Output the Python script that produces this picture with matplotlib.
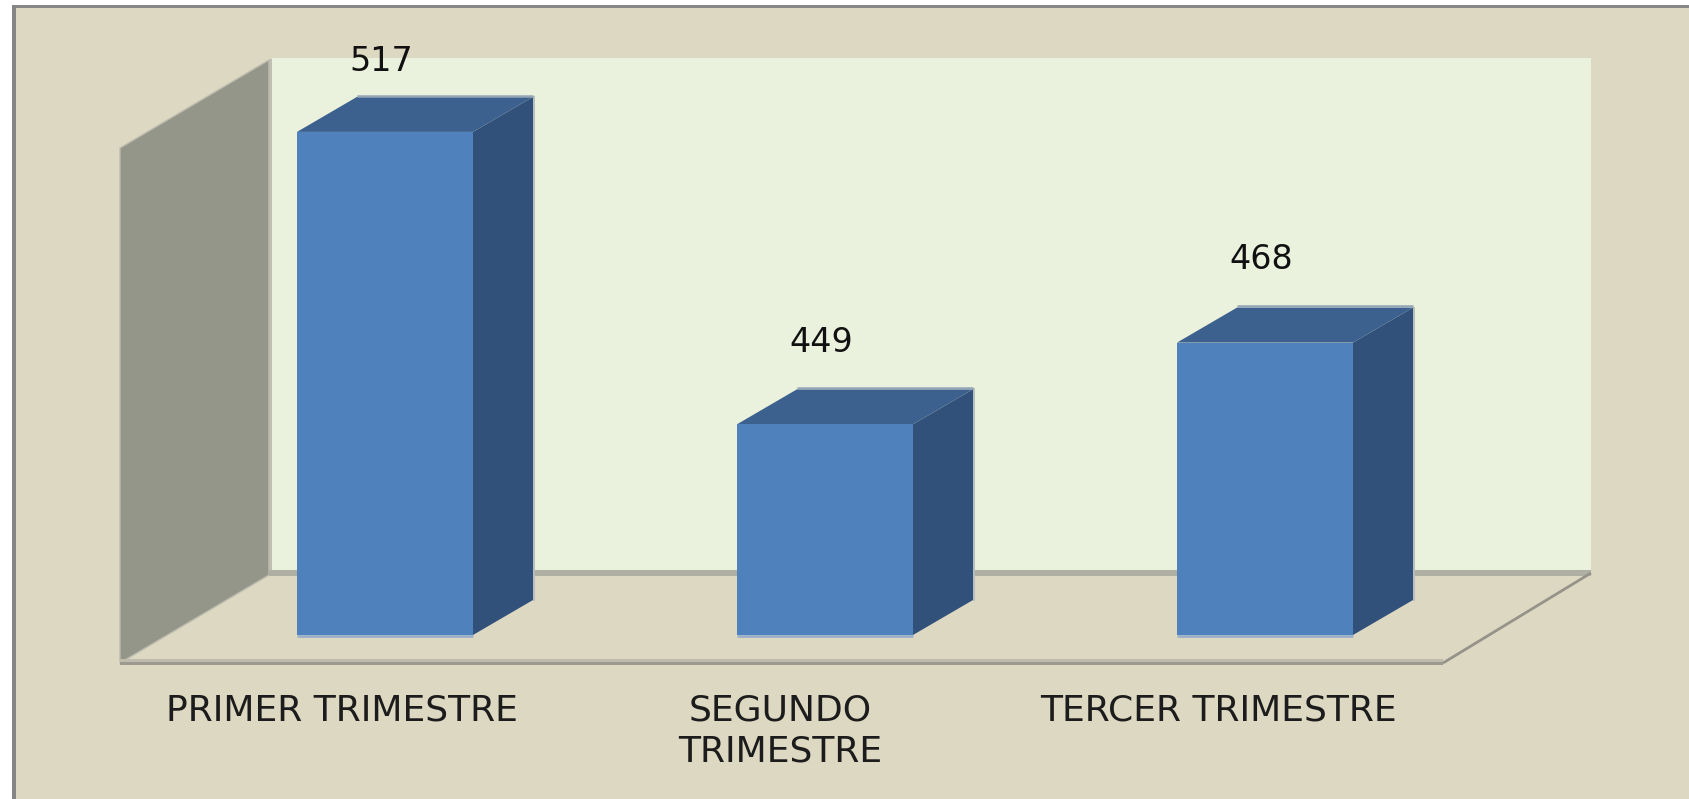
import matplotlib
matplotlib.use("Agg")
import matplotlib.pyplot as plt
from matplotlib.patches import Polygon, Rectangle

categories = ["PRIMER TRIMESTRE", "SEGUNDO\nTRIMESTRE", "TERCER TRIMESTRE"]
values = [517, 449, 468]
label_lift_px = [70, 82, 83]

W, H = 1690, 799
BG = "#DDD8C2"
fig = plt.figure(figsize=(W / 100, H / 100), dpi=100, facecolor="white")
plt.rcParams["font.family"] = "DejaVu Sans"


def axes_px(x0, y0, x1, y1, **kw):
    return fig.add_axes([x0 / W, 1 - y1 / H, (x1 - x0) / W, (y1 - y0) / H], **kw)


# Canvas in pixel units for the chart-area frame and the 3D walls
bg = axes_px(0, 0, W, H, zorder=0)
bg.set_xlim(0, W)
bg.set_ylim(H, 0)
bg.axis("off")
bg.add_patch(Rectangle((12, 5), W, H, fc=BG, ec="none"))
bg.add_patch(Rectangle((12, 5), 4, H, fc="#868686", ec="none"))
bg.add_patch(Rectangle((12, 5), W, 3, fc="#868686", ec="none"))
bg.add_patch(Rectangle((272, 58), 1591 - 272, 515, fc="#EAF1DD", ec="none"))
bg.add_patch(Rectangle((269, 59), 3, 514, fc="#BFC0B2", ec="none"))
bg.add_patch(Polygon([(120, 148), (269, 60), (269, 575), (120, 663)], fc="#94968A", ec="#BDBCAE", lw=1))
bg.add_patch(Rectangle((269, 570), 1591 - 269, 5.5, fc="#B0AFA4", ec="none"))
bg.add_patch(Rectangle((120, 659), 1323, 3, fc="#BFBCAE", ec="none"))
bg.add_patch(Rectangle((120, 662), 1323, 3, fc="#9C9A90", ec="none"))
bg.plot([1443, 1591], [663, 573], color="#96948A", lw=2, solid_capstyle="butt")

# Value axes: the bars' own plane, baseline 400 at y=635 px, 4.3 px per unit
ax = axes_px(165, 117, 1485, 635, zorder=2)
ax.patch.set_alpha(0)
ax.set_xlim(-0.5, 2.5)
ax.set_ylim(400, 400 + 518 / 4.3)
ax.axis("off")

width = 0.4
dx = 60 / (1320 / 3)
dy = 35 / 4.3
for i, v in enumerate(values):
    l, r = i - width / 2, i + width / 2
    ax.plot([r + dx + 0.003] * 2, [400 + dy, v + dy], color="#B5BFBD", lw=1.4, clip_on=False)
    ax.add_patch(Polygon([(r, 400), (r + dx, 400 + dy), (r + dx, v + dy), (r, v)],
                         fc="#31507A", ec="none", clip_on=False))
    ax.add_patch(Polygon([(l, v), (l + dx, v + dy), (r + dx, v + dy), (r, v)],
                         fc="#3D618E", ec="none", clip_on=False))
    ax.bar(i, v - 400, width, bottom=400, color="#4F81BD", clip_on=False)
    ax.plot([l, r], [399.7, 399.7], color="#9BB0C8", lw=2, clip_on=False, solid_capstyle="butt")
    ax.plot([l + dx, r + dx], [v + dy + 0.3] * 2, color="#94A6B5", lw=1.8, clip_on=False, solid_capstyle="butt")
    ax.annotate(str(v), (i, v), xytext=(-2.5, label_lift_px[i] * 0.72), textcoords="offset points",
                ha="center", va="center", fontsize=24, color="#111111", annotation_clip=False)

# Front plane of the floor, carrying the category labels
front = axes_px(123, 400, 1437, 663, zorder=1)
front.patch.set_alpha(0)
front.set_xlim(-0.5, 2.5)
front.set_ylim(0, 1)
for s in front.spines.values():
    s.set_visible(False)
front.set_yticks([])
front.set_xticks(range(3), categories, fontsize=26, color="#1c1c1c", linespacing=1.25)
front.tick_params(axis="x", length=0, pad=22)

fig.savefig("out.png", dpi=100, facecolor=fig.get_facecolor())
